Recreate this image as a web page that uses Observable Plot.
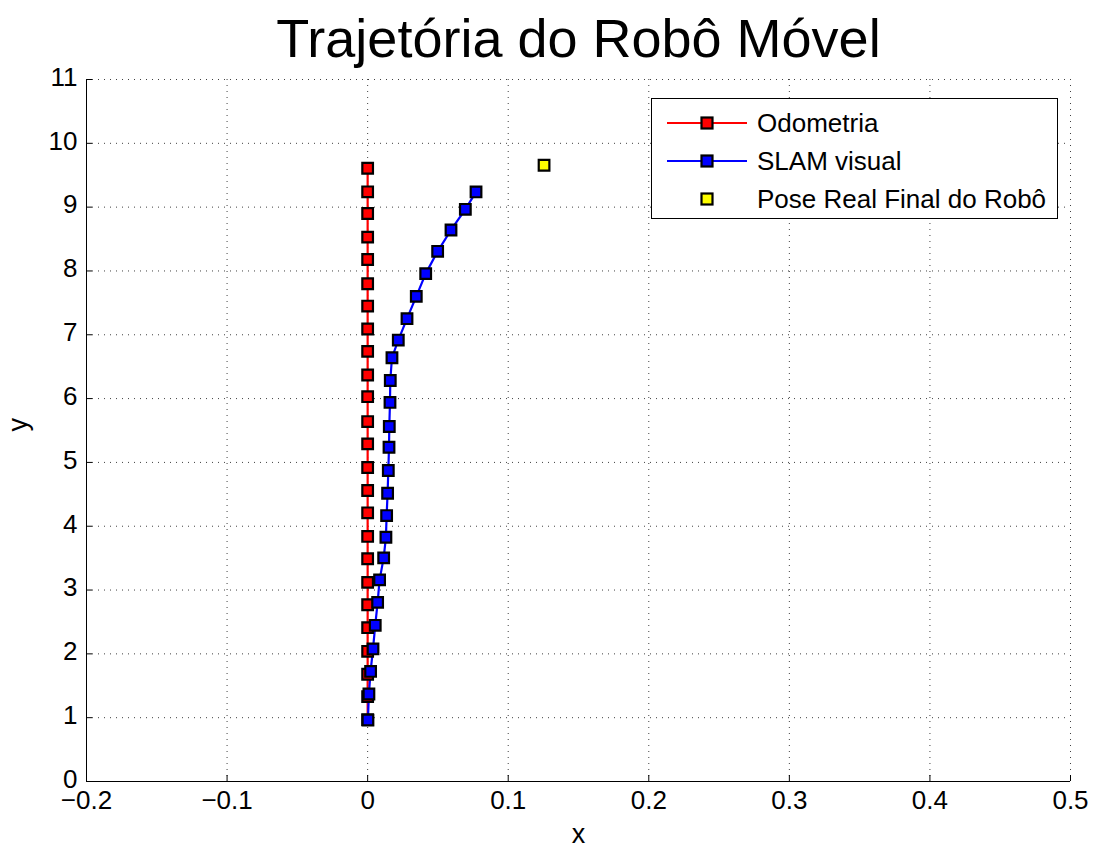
<!DOCTYPE html>
<html>
<head>
<meta charset="utf-8">
<script src="https://cdn.jsdelivr.net/npm/d3@7"></script>
<script src="https://cdn.jsdelivr.net/npm/@observablehq/plot@0.6"></script>
<style>
  body { margin: 0; background: #fff; }
  #wrap { position: relative; width: 1099px; height: 857px; font-family: "Liberation Sans", Arial, Helvetica, sans-serif; }
  #legend { position: absolute; left: 651px; top: 98px; width: 407px; height: 121px; border: 1px solid #000; background: #fff; box-sizing: border-box; }
  .row { position: absolute; left: 0; height: 30px; display: flex; align-items: center; font-size: 26px; color: #000; }
  .row svg { margin-left: 15px; margin-right: 10px; }
</style>
</head>
<body>
<div id="wrap"></div>
<script>
const title = "Trajetória do Robô Móvel";
const xTicks = [-0.2, -0.1, 0, 0.1, 0.2, 0.3, 0.4, 0.5];
const yTicks = [0, 1, 2, 3, 4, 5, 6, 7, 8, 9, 10, 11];

const odoX = [0,0,0,0,0,0,0,0,0,0,0,0,0,0,0,0,0,0,0,0,0,0,0,0,0];
const odoY = [0.97,1.33,1.68,2.04,2.41,2.77,3.12,3.49,3.84,4.21,4.56,4.92,5.29,5.64,6.03,6.37,6.74,7.09,7.45,7.80,8.18,8.53,8.90,9.24,9.61];

const slamX = [0.0002,0.0009,0.0021,0.0038,0.0054,0.0071,0.0085,0.0114,0.0130,0.0135,0.0142,0.0147,0.0152,0.0154,0.0159,0.0161,0.0173,0.0218,0.0280,0.0346,0.0413,0.0498,0.0593,0.0695,0.0771];
const slamY = [0.963,1.371,1.725,2.077,2.447,2.807,3.159,3.504,3.827,4.167,4.517,4.873,5.238,5.563,5.94,6.284,6.640,6.917,7.252,7.602,7.958,8.308,8.642,8.966,9.238];

const realX = [0.1255];
const realY = [9.657];

const seriesNames = ["Odometria", "SLAM visual", "Pose Real Final do Robô"];

const odo = odoX.map((x, i) => ({x, y: odoY[i]}));
const slam = slamX.map((x, i) => ({x, y: slamY[i]}));
const real = realX.map((x, i) => ({x, y: realY[i]}));

const W = 1099, H = 857;
const mL = 86, mR = 29, mT = 79, mB = 76;
const innerW = W - mL - mR, innerH = H - mT - mB;
const fmt = d => d === 0 ? "0" : d.toFixed(1).replace("-", "\u2212");
const r = 6;

const chart = Plot.plot({
  width: W, height: H,
  marginLeft: mL, marginRight: mR, marginTop: mT, marginBottom: mB,
  style: {fontFamily: '"Liberation Sans", Arial, Helvetica, sans-serif', fontSize: "26px", color: "#000", background: "#fff", overflow: "visible"},
  x: {domain: [-0.2, 0.5]},
  y: {domain: [0, 11]},
  marks: [
    Plot.gridX(xTicks, {stroke: "#000", strokeOpacity: 0.75, strokeDasharray: "1,5"}),
    Plot.gridY(yTicks, {stroke: "#000", strokeOpacity: 0.75, strokeDasharray: "1,5"}),
    Plot.tickX(xTicks, {x: d => d, insetTop: innerH - 6, stroke: "#000"}),
    Plot.tickY(yTicks, {y: d => d, insetRight: innerW - 6, stroke: "#000"}),
    Plot.ruleX([-0.2], {stroke: "#000"}),
    Plot.ruleY([0], {stroke: "#000"}),
    Plot.axisX(xTicks, {tickSize: 0, tickPadding: 9, tickFormat: fmt, fontSize: 26, label: null}),
    Plot.axisY(yTicks, {tickSize: 0, tickPadding: 9, dy: -2, tickFormat: d => String(d), fontSize: 26, label: null}),
    Plot.text(["x"], {frameAnchor: "bottom", dy: 61, fontSize: 27}),
    Plot.text(["y"], {frameAnchor: "left", dx: -68, dy: 1, rotate: -90, fontSize: 27}),
    Plot.text([title], {frameAnchor: "top", dy: -61, fontSize: 54}),
    Plot.line(odo, {x: "x", y: "y", stroke: "#ff0000", strokeWidth: 2.2}),
    Plot.line(slam, {x: "x", y: "y", stroke: "#0000ff", strokeWidth: 2.2}),
    Plot.dot(odo, {x: "x", y: "y", symbol: "square", r, fill: "#ff0000", stroke: "#000", strokeWidth: 2.2}),
    Plot.dot(slam, {x: "x", y: "y", symbol: "square", r, fill: "#0000ff", stroke: "#000", strokeWidth: 2.2}),
    Plot.dot(real, {x: "x", y: "y", symbol: "square", r, fill: "#ffff00", stroke: "#000", strokeWidth: 2.2})
  ]
});

const wrap = document.getElementById("wrap");
wrap.appendChild(chart);

// Legend
const legend = document.createElement("div");
legend.id = "legend";
const colors = ["#ff0000", "#0000ff", "#ffff00"];
const hasLine = [true, true, false];
const rowTops = [9, 47, 85];
seriesNames.forEach((name, i) => {
  const row = document.createElement("div");
  row.className = "row";
  row.style.top = rowTops[i] + "px";
  const sw = d3.create("svg").attr("width", 80).attr("height", 30);
  if (hasLine[i]) sw.append("line").attr("x1", 0).attr("x2", 80).attr("y1", 15).attr("y2", 15).attr("stroke", colors[i]).attr("stroke-width", 2.2);
  sw.append("rect").attr("x", 34.5).attr("y", 9.5).attr("width", 11).attr("height", 11).attr("fill", colors[i]).attr("stroke", "#000").attr("stroke-width", 2.2);
  row.appendChild(sw.node());
  const t = document.createElement("span");
  t.textContent = name;
  row.appendChild(t);
  legend.appendChild(row);
});
wrap.appendChild(legend);
</script>
</body>
</html>
